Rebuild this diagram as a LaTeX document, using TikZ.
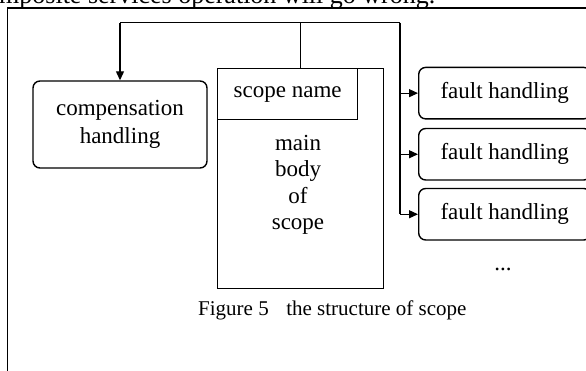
\documentclass[tikz,border=0pt]{standalone}
\usepackage{fontspec}
\setmainfont{Liberation Serif}
\usetikzlibrary{arrows.meta}
\begin{document}
\begin{tikzpicture}[x=1pt,y=-1pt,
  boxline/.style={draw=black, line width=1.4pt},
  txt/.style={font=\fontsize{23}{28}\selectfont},
  rbox/.style={boxline, rounded corners=7pt, inner sep=0pt, txt, align=center},
  sbox/.style={boxline, inner sep=0pt, txt, align=center},
  conn/.style={draw=black, line width=1.2pt},
  arr/.style={conn, -{Triangle[length=9pt,width=8pt]}}]
\useasboundingbox (0,0) rectangle (586,371);
\clip (0,0) rectangle (586,371);
% cut-off text line at the top
\node[anchor=base west, inner sep=0pt, font=\fontsize{26}{30}\selectfont] (topline) at (-1,3.5) {mposite services operation will go wrong.};
% outer frame
\draw[line width=1.6pt] (7.5,380) -- (7.5,8.3) -- (600,8.3);
% compensation handling
\node[rbox, minimum width=174pt, minimum height=87pt] (comp) at (120,124.5) {compensation\\handling};
% scope
\node[sbox, minimum width=166pt, minimum height=220pt, anchor=north west] (scope) at (217,68) {};
\node[sbox, minimum width=140pt, minimum height=51pt, anchor=north west] (sname) at (217,68) {scope name};
\node[inner sep=0pt, align=center, font=\fontsize{23}{26.5}\selectfont] (body) at (298,185) {main\\body\\of\\scope};
% fault handlers
\node[rbox, minimum width=172pt, minimum height=51.5pt, anchor=north west] (f1) at (418,66.7) {fault handling};
\node[rbox, minimum width=172pt, minimum height=51.5pt, anchor=north west] (f2) at (418,127.8) {fault handling};
\node[rbox, minimum width=172pt, minimum height=51.5pt, anchor=north west] (f3) at (418,187.8) {fault handling};
\node[anchor=base, inner sep=0pt, txt] (dots) at (503,271) {...};
% caption
\node[anchor=base west, inner sep=0pt, font=\fontsize{21}{24}\selectfont] (cap) at (198,315) {Figure 5\hspace{17.5pt}the structure of scope};
% connectors
\coordinate (busL) at (120,22.7);
\coordinate (busR) at (400,22.7);
\draw[conn] (scope.north) -- (scope.north |- busL);
\draw[conn] (busL) -- (busR);
\draw[arr] (busL) -- (comp.north);
\draw[conn] (busR) -- (busR |- f3.west);
\draw[arr] (busR |- f1.west) -- (f1.west);
\draw[arr] (busR |- f2.west) -- (f2.west);
\draw[arr] (busR |- f3.west) -- (f3.west);
\end{tikzpicture}
\end{document}
